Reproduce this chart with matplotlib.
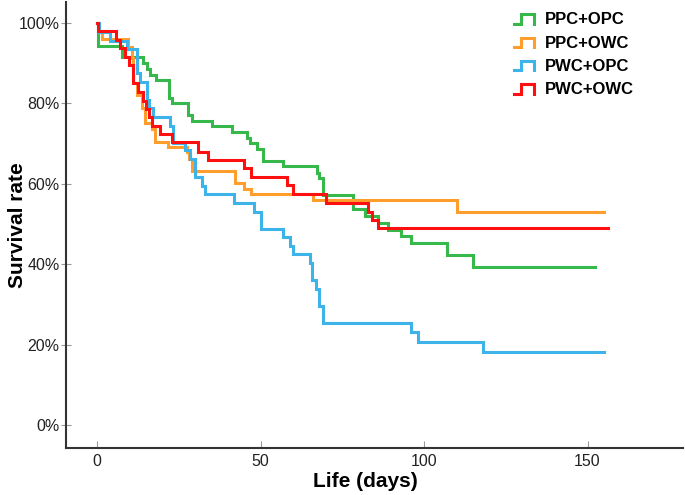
import matplotlib
matplotlib.use("Agg")
import matplotlib.pyplot as plt
from matplotlib.lines import Line2D
from matplotlib.legend_handler import HandlerBase

plt.rcParams["font.family"] = ["Liberation Sans", "DejaVu Sans"]

# Kaplan-Meier style step data (days, survival %)
groups = ["PPC+OPC", "PPC+OWC", "PWC+OPC", "PWC+OWC"]
colors = ["#37b84b", "#ff9e2c", "#3cb4ea", "#ff1010"]

green_days = [0, 0.3, 7.7, 14.2, 15.2, 16.2, 18.0, 22.1, 22.8, 27.9, 29.0, 35.1,
              41.2, 45.8, 46.8, 48.8, 50.9, 57.0, 67.2, 68.0, 69.0, 78.2, 82.0,
              86.0, 89.1, 93.0, 96.0, 106.9, 114.9]
green_surv = [100, 94.3, 91.4, 90.0, 88.5, 87.1, 85.8, 81.4, 80.0, 77.1, 75.7, 74.3,
              72.8, 71.5, 70.1, 68.6, 65.7, 64.3, 62.8, 61.4, 57.2, 53.7, 52.1,
              50.3, 48.5, 46.9, 45.2, 42.3, 39.2]
green_end = 152.3

orange_days = [0, 0.5, 1.5, 9.6, 10.6, 11.1, 12.1, 13.7, 14.7, 16.7, 17.7, 21.8,
               27.4, 28.1, 29.0, 42.2, 45.0, 47.0, 66.0, 110.0]
orange_surv = [100, 98.0, 96.1, 94.1, 91.2, 85.0, 82.1, 78.9, 75.1, 73.6, 70.5, 69.1,
               67.8, 66.1, 63.2, 60.3, 58.8, 57.4, 55.9, 53.1]
orange_end = 155.1

blue_days = [0, 0.5, 4.0, 9.1, 12.1, 13.1, 15.2, 15.9, 17.2, 22.3, 23.2, 26.9,
             28.4, 30.0, 32.0, 33.0, 41.9, 48.0, 50.1, 57.0, 59.0, 60.0, 65.1,
             65.8, 67.0, 68.0, 69.0, 96.0, 98.1, 117.9]
blue_surv = [100, 97.7, 95.5, 93.5, 87.5, 85.2, 80.9, 78.8, 76.7, 74.4, 70.2, 68.3,
             66.1, 61.8, 59.5, 57.5, 55.2, 53.1, 48.8, 46.7, 44.5, 42.5, 40.2,
             36.1, 33.8, 29.6, 25.5, 23.2, 20.7, 18.2]
blue_end = 155.1

red_days = [0, 0.2, 5.8, 7.0, 8.6, 9.9, 10.9, 12.6, 14.0, 15.0, 16.0, 16.9, 19.3,
            22.8, 31.0, 34.0, 45.0, 47.0, 58.0, 59.8, 70.0, 83.0, 84.0, 85.8]
red_surv = [100, 98.0, 95.8, 93.7, 91.4, 89.6, 85.0, 82.9, 80.6, 78.6, 76.7, 74.4,
            72.4, 70.3, 68.0, 65.9, 63.8, 61.6, 59.7, 57.5, 55.3, 53.1, 51.0, 48.9]
red_end = 156.2

y_ticks = [0, 20, 40, 60, 80, 100]
x_ticks = [0, 50, 100, 150]


class StepHandler(HandlerBase):
    # little step icon like the original legend
    def create_artists(self, legend, orig_handle, xdescent, ydescent,
                       width, height, fontsize, trans):
        x0 = -xdescent
        y0 = -ydescent
        lo = y0 + height * 0.05
        hi = y0 + height * 0.85
        xm = x0 + width * 0.33
        line = Line2D([x0, xm, xm, x0 + width, x0 + width], [lo, lo, hi, hi, lo],
                      color=orig_handle.get_color(), lw=orig_handle.get_linewidth(),
                      solid_joinstyle="miter", transform=trans)
        return [line]


fig = plt.figure(figsize=(6.85, 4.95), dpi=100)
ax = fig.add_axes([66 / 685, 47 / 495, 617 / 685, 446 / 495])

series = [(green_days, green_surv, green_end),
          (orange_days, orange_surv, orange_end),
          (blue_days, blue_surv, blue_end),
          (red_days, red_surv, red_end)]

handles = []
for (days, surv, end), name, col in zip(series, groups, colors):
    line, = ax.step(days + [end], surv + [surv[-1]], where="post",
                    color=col, lw=2.2, label=name, solid_joinstyle="miter")
    handles.append(line)

ax.set_xlim(-9.5, 179.2)
ax.set_ylim(-5.7, 105.2)
ax.set_xticks(x_ticks)
ax.set_yticks(y_ticks)
ax.set_yticklabels([f"{v}%" for v in y_ticks])

for side in ["top", "right"]:
    ax.spines[side].set_visible(False)
for side in ["left", "bottom"]:
    ax.spines[side].set_linewidth(1.5)
    ax.spines[side].set_color("#333333")

ax.tick_params(axis="x", direction="in", length=5, width=0.8, color="#999999",
               labelsize=11.5, labelcolor="#222222", pad=4)
ax.tick_params(axis="y", direction="inout", length=7, width=0.8, color="#999999",
               labelsize=11.5, labelcolor="#222222", pad=1)

ax.set_xlabel("Life (days)", fontsize=15, fontweight="bold")
ax.set_ylabel("Survival rate", fontsize=15, fontweight="bold")
ax.xaxis.set_label_coords(0.486, -0.054)
ax.yaxis.set_label_coords(-0.063, 0.5)

ax.legend(handles=handles, handler_map={Line2D: StepHandler()},
          loc="upper left", bbox_to_anchor=(506 / 685, 1 - 4 / 495),
          bbox_transform=fig.transFigure, frameon=False, borderpad=0,
          handlelength=1.15, handletextpad=0.7, labelspacing=0.5,
          prop={"size": 12, "weight": "bold"})

fig.savefig("out.png", dpi=100, facecolor="white")
